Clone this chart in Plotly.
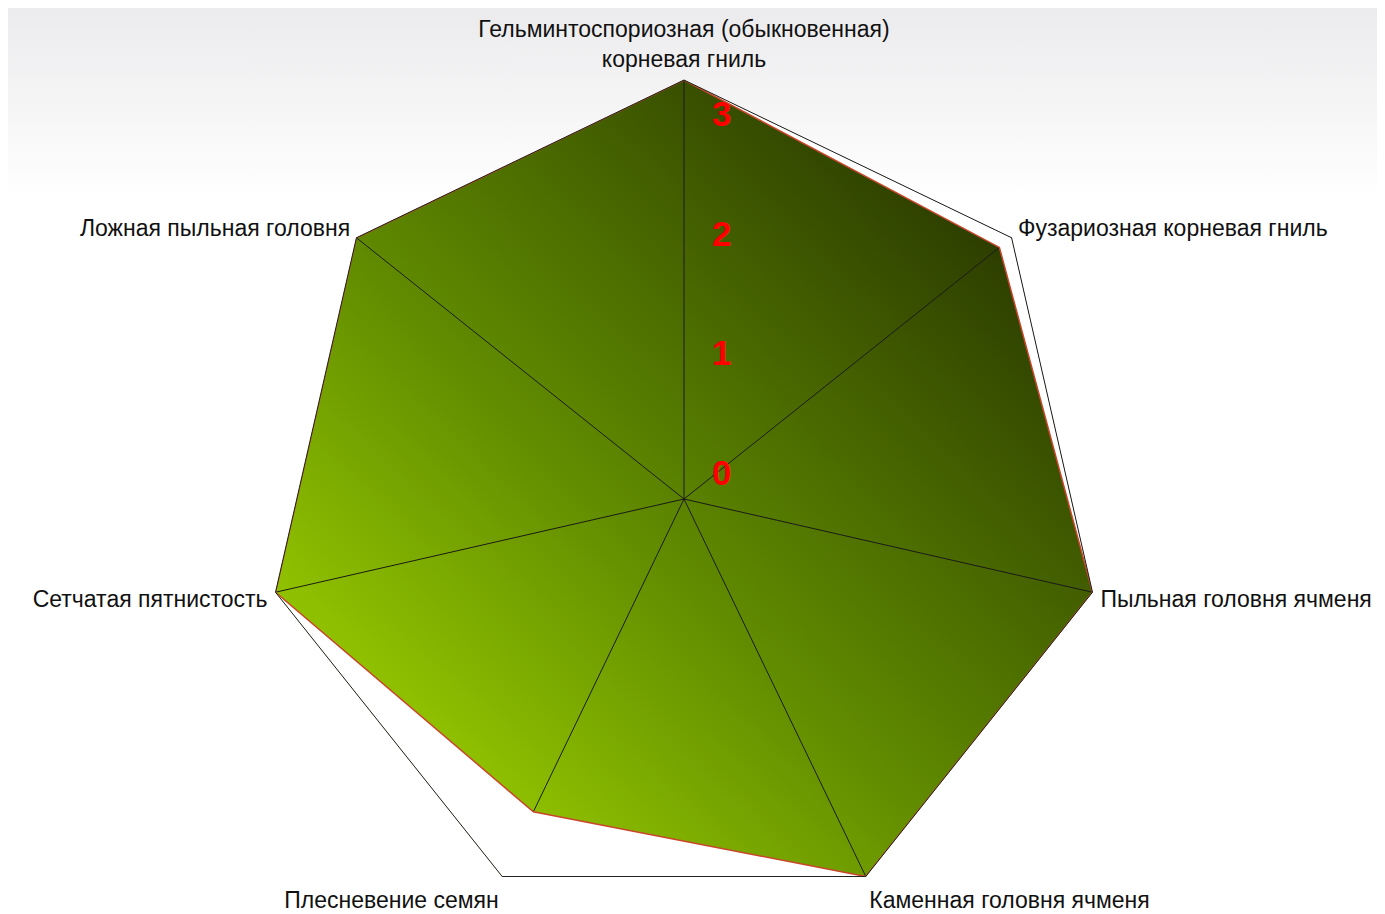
import base64
import math
import plotly.graph_objects as go

# ---------------- data ----------------
categories = [
    "Гельминтоспориозная (обыкновенная)<br>корневая гниль",
    "Фузариозная корневая гниль",
    "Пыльная головня ячменя",
    "Каменная головня ячменя",
    "Плесневение семян",
    "Сетчатая пятнистость",
    "Ложная пыльная головня",
]
values = [3.5, 3.37, 3.5, 3.5, 2.9, 3.5, 3.5]
radial_max = 3.5
tick_vals = [0, 1, 2, 3]
tick_text = ["0", "1", "2", "3"]

# ---------------- layout geometry ----------------
W, H = 1385, 914
M_TOP = 72
CX = 676          # centre x in figure pixels
R_PX = 419        # radius of the frame in pixels
plot_h = H - M_TOP
dom_y0 = (plot_h - 2 * R_PX) / plot_h
dom_x1 = 2 * CX / W


def data_uri(svg):
    return "data:image/svg+xml;base64," + base64.b64encode(svg.encode("utf-8")).decode("ascii")


# gradient-filled frame polygon (covered outside the data by the white mask trace)
n = len(categories)
pts = " ".join(
    f"{math.sin(2 * math.pi * k / n):.5f},{-math.cos(2 * math.pi * k / n):.5f}" for k in range(n)
)
hept_svg = (
    '<svg xmlns="http://www.w3.org/2000/svg" width="800" height="800" viewBox="-1 -1 2 2" '
    'preserveAspectRatio="none">'
    '<defs><linearGradient id="g" x1="0" y1="1" x2="1" y2="0">'
    '<stop offset="0" stop-color="#a0d400"/>'
    '<stop offset="0.19" stop-color="#8fc000"/>'
    '<stop offset="0.42" stop-color="#648f00"/>'
    '<stop offset="0.55" stop-color="#527600"/>'
    '<stop offset="0.70" stop-color="#3f5900"/>'
    '<stop offset="0.85" stop-color="#2b3c00"/>'
    '<stop offset="1" stop-color="#1c2800"/>'
    '</linearGradient></defs>'
    f'<polygon points="{pts}" fill="url(#g)"/></svg>'
)
top_svg = (
    '<svg xmlns="http://www.w3.org/2000/svg" width="100" height="100" viewBox="0 0 1 1" '
    'preserveAspectRatio="none">'
    '<defs><linearGradient id="b" x1="0" y1="0" x2="0" y2="1">'
    '<stop offset="0" stop-color="#ebebed"/><stop offset="1" stop-color="#ffffff"/>'
    '</linearGradient></defs><rect x="0" y="0" width="1" height="1" fill="url(#b)"/></svg>'
)

fig = go.Figure()

theta_closed = categories + [categories[0]]
r_closed = values + [values[0]]

# white mask between the outer frame and the data polygon (keyhole path)
mask_theta = theta_closed + [categories[0]] + categories[::-1]
mask_r = [radial_max] * (n + 1) + [values[0]] + values[::-1]
fig.add_trace(
    go.Scatterpolar(
        r=mask_r,
        theta=mask_theta,
        mode="lines",
        fill="toself",
        fillcolor="#ffffff",
        line=dict(width=0, color="rgba(0,0,0,0)"),
        hoverinfo="skip",
        showlegend=False,
    )
)
# data outline
fig.add_trace(
    go.Scatterpolar(
        r=r_closed,
        theta=theta_closed,
        mode="lines",
        line=dict(color="#c9462a", width=1.5),
        showlegend=False,
    )
)
# value-axis labels (red numbers beside the vertical axis); plotly hides a point
# lying exactly on the centre, so the label anchor is nudged off it by a hair
label_r = [max(v, 0.002) for v in tick_vals]
fig.add_trace(
    go.Scatterpolar(
        r=label_r,
        theta=[categories[0]] * len(tick_vals),
        mode="markers+text",
        text=[t + "<br>\u00a0" for t in tick_text],
        textposition="middle right",
        marker=dict(size=43, color="rgba(0,0,0,0)"),
        textfont=dict(family="Liberation Sans, Arial", size=35, color="#ff0000", weight="bold"),
        cliponaxis=False,
        hoverinfo="skip",
        showlegend=False,
    )
)

fig.update_layout(
    width=W,
    height=H,
    margin=dict(l=0, r=0, t=M_TOP, b=0, pad=0),
    paper_bgcolor="#ffffff",
    showlegend=False,
    images=[
        dict(
            source=data_uri(top_svg),
            xref="paper", yref="paper",
            x=0, y=1 + M_TOP / plot_h,
            sizex=1, sizey=192 / plot_h,
            xanchor="left", yanchor="top",
            sizing="stretch", layer="below",
        ),
        dict(
            source=data_uri(hept_svg),
            xref="paper", yref="paper",
            x=(CX - R_PX) / W, y=1,
            sizex=2 * R_PX / W, sizey=2 * R_PX / plot_h,
            xanchor="left", yanchor="top",
            sizing="stretch", layer="below",
        ),
    ],
    polar=dict(
        domain=dict(x=[0, dom_x1], y=[dom_y0, 1]),
        bgcolor="rgba(0,0,0,0)",
        gridshape="linear",
        radialaxis=dict(
            range=[0, radial_max],
            tickvals=tick_vals,
            angle=90,
            showgrid=False,
            showline=False,
            showticklabels=False,
            ticks="",
        ),
        angularaxis=dict(
            categoryarray=categories,
            categoryorder="array",
            direction="clockwise",
            rotation=90,
            showline=True,
            linecolor="#222222",
            linewidth=1,
            showgrid=True,
            gridcolor="#1a1a1a",
            gridwidth=1,
            ticks="outside",
            ticklen=3,
            tickcolor="rgba(0,0,0,0)",
            tickfont=dict(family="Liberation Sans, Arial", size=23, color="#111111"),
            layer="above traces",
        ),
    ),
)

fig.write_html("out.html")
